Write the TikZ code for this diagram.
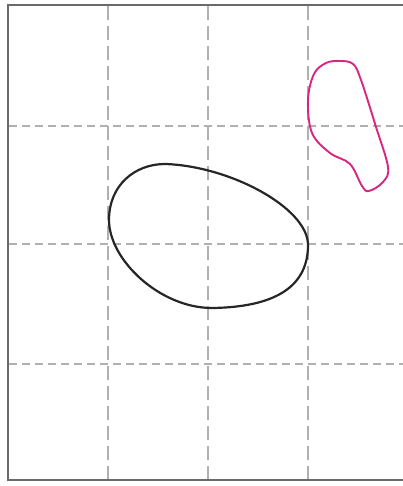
\documentclass[tikz,border=0pt]{standalone}
\definecolor{framegray}{HTML}{6A6A6A}
\definecolor{gridgray}{HTML}{B0B0B0}
\definecolor{loopmag}{RGB}{214,40,130}
\tikzset{
  framestyle/.style={draw=framegray, line width=2.8pt},
  vgrid/.style={draw=gridgray, line width=1.2pt, dash pattern=on 14pt off 6pt},
  hgrid/.style={draw=gridgray, line width=1.8pt, dash pattern=on 8pt off 5pt},
  blackloop/.style={draw=black!85, line width=2.2pt},
  magloop/.style={draw=loopmag, line width=1.9pt}
}
\begin{document}
\begin{tikzpicture}[x=1pt,y=-1pt]
\useasboundingbox (0,0) rectangle (403,486);
\clip (0,0) rectangle (403,486);
% grid
\foreach \x in {108,208,308} \draw[vgrid] (\x,6) -- (\x,479);
\foreach \y in {126,244,364} \draw[hgrid] (9,\y) -- (403,\y);
% frame
\draw[framestyle] (410,5) -- (8,5) -- (8,480) -- (410,480);
% black loop
\draw[blackloop] (109,220) .. controls (109,185) and (135,164) .. (165,164)
  .. controls (230,166) and (308,208) .. (308,245)
  .. controls (308,280) and (285,307) .. (212,308)
  .. controls (160,308) and (109,260) .. (109,220) -- cycle;
% magenta loop
\draw[magloop] plot[smooth cycle, tension=0.6] coordinates {
 (340,61) (353,64) (361,80) (376,127) (388,167) (383,182) (369,191)
 (362,186) (350,164) (330,153) (312,133) (308,100) (314,74) (326,63)};
\end{tikzpicture}
\end{document}
